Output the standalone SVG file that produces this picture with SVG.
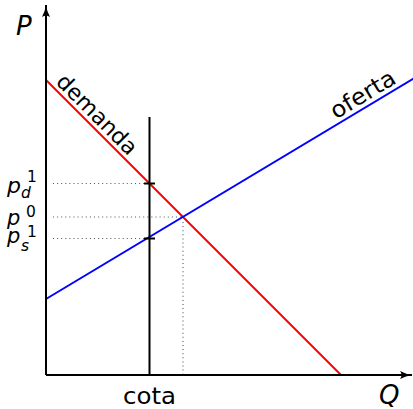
<svg xmlns="http://www.w3.org/2000/svg" width="413" height="409" viewBox="0 0 413 409">
<style>
.ax{stroke:#000;stroke-width:2;fill:none}
.dot{stroke:#555;stroke-width:1.1;stroke-dasharray:1 3.1;fill:none}
.t{font-family:"DejaVu Sans",sans-serif;fill:#000}
.i{font-family:"DejaVu Sans",sans-serif;font-style:italic;fill:#000}
.s{font-size:15.5px}
</style>
<defs>
<marker id="arr" markerWidth="14" markerHeight="10" refX="12" refY="5" orient="auto" markerUnits="userSpaceOnUse">
<path d="M0,1 Q6,4.2 12,5 Q6,5.8 0,9 Q3,5 0,1 Z" fill="#000"/>
</marker>
</defs>
<rect width="413" height="409" fill="#fff"/>
<g id="connectors">
<line class="dot" x1="53" y1="183.5" x2="149" y2="183.5"/>
<line class="dot" x1="53" y1="217" x2="183" y2="217"/>
<line class="dot" x1="53" y1="238.5" x2="149" y2="238.5"/>
<line class="dot" x1="183" y1="222" x2="183" y2="374"/>
<line id="demanda-line" x1="46" y1="80" x2="341" y2="375" stroke="#f00" stroke-width="2"/>
<line id="oferta-line" x1="46" y1="299" x2="414" y2="78.2" stroke="#00f" stroke-width="2"/>
<line class="ax" x1="46" y1="375" x2="46" y2="5" marker-end="url(#arr)"/>
<line class="ax" x1="46" y1="375" x2="412" y2="375" marker-end="url(#arr)"/>
<line class="ax" x1="149.5" y1="117" x2="149.5" y2="375"/>
<line class="ax" x1="144" y1="183.5" x2="155" y2="183.5"/>
<line class="ax" x1="144" y1="238.5" x2="155" y2="238.5"/>
</g>
<g id="label-P"><text class="i" x="16" y="35" font-size="26">P</text></g>
<g id="label-Q"><text class="i" x="379" y="404" font-size="26">Q</text></g>
<g id="label-cota"><text class="t" x="123" y="404" font-size="23.5" textLength="53" lengthAdjust="spacingAndGlyphs">cota</text></g>
<g id="label-demanda"><text class="t" font-size="22" transform="translate(55,83) rotate(45)" textLength="104" lengthAdjust="spacingAndGlyphs">demanda</text></g>
<g id="label-oferta"><text class="t" font-size="23" transform="translate(336,119.5) rotate(-31)" textLength="72" lengthAdjust="spacingAndGlyphs">oferta</text></g>
<g id="label-pd1">
<text class="i" x="7" y="193" font-size="22">p</text>
<text class="i s" x="21" y="198">d</text>
<text class="t s" x="27" y="182">1</text>
</g>
<g id="label-p0">
<text class="i" x="7" y="225" font-size="21">p</text>
<text class="t s" x="26" y="217">0</text>
</g>
<g id="label-ps1">
<text class="i" x="7" y="243" font-size="21">p</text>
<text class="i s" x="21" y="251">s</text>
<text class="t s" x="27" y="237">1</text>
</g>
</svg>
